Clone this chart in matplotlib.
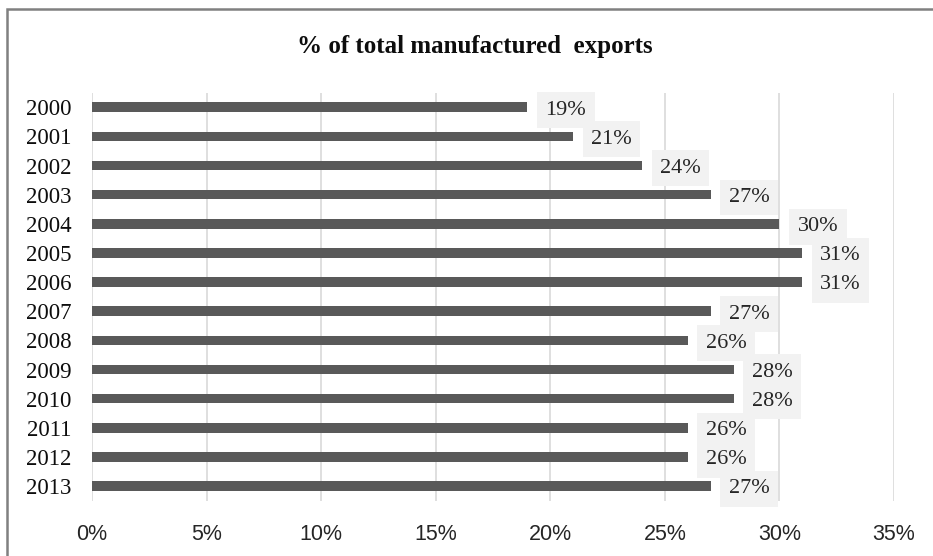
import matplotlib
matplotlib.use("Agg")
import matplotlib.pyplot as plt
from matplotlib.patches import Rectangle
from matplotlib.ticker import FuncFormatter

years = ["2000", "2001", "2002", "2003", "2004", "2005", "2006",
         "2007", "2008", "2009", "2010", "2011", "2012", "2013"]
shares = [19, 21, 24, 27, 30, 31, 31, 27, 26, 28, 28, 26, 26, 27]
x_ticks = [0, 5, 10, 15, 20, 25, 30, 35]
title = "% of total manufactured  exports"

SERIF = "Liberation Serif"
SANS = "Liberation Sans"


def plot_chart():
    fig = plt.figure(figsize=(9.33, 5.56), dpi=100)
    ax = fig.add_axes([0.0986, 0.0995, 0.8596, 0.7338])

    # frame around the chart (cut off at right and bottom like the source)
    frame = Rectangle((7 / 933, -0.1), 1.2, 1.1 - 9 / 556, transform=fig.transFigure,
                      fill=False, edgecolor="#808080", linewidth=1.8, clip_on=False)
    fig.patches.append(frame)

    pos = list(range(len(years)))
    ax.barh(pos, shares, height=0.33, color="#595959", zorder=2)

    for y, v in zip(pos, shares):
        ax.annotate(f"{v}%", xy=(v, y), xytext=(13, -2), textcoords="offset points",
                    ha="left", va="center", fontsize=16, family=SERIF, color="#262626",
                    bbox=dict(boxstyle="square,pad=0.38", facecolor="#f2f2f2", edgecolor="none"),
                    zorder=3)

    ax.set_xlim(0, 35)
    ax.set_ylim(len(years) - 0.5, -0.5)
    ax.set_xticks(x_ticks)
    ax.xaxis.set_major_formatter(FuncFormatter(lambda v, p: f"{v:.0f}%"))
    ax.set_yticks(pos)
    ax.set_yticklabels(years)

    ax.grid(axis="x", color="#d9d9d9", linewidth=1.2, zorder=0)
    ax.set_axisbelow(True)
    for s in ax.spines.values():
        s.set_visible(False)

    ax.tick_params(axis="both", length=0)
    ax.tick_params(axis="x", pad=17, labelsize=15.5, labelcolor="#262626")
    ax.tick_params(axis="y", pad=15, labelsize=16.5, labelcolor="#0d0d0d")
    for lab in ax.get_xticklabels():
        lab.set_family(SANS)
    for lab in ax.get_yticklabels():
        lab.set_family(SERIF)

    fig.text(475 / 933, 1 - 46 / 556, title, ha="center", va="center",
             fontsize=18, fontweight="bold", family=SERIF, color="#0d0d0d")

    fig.savefig("out.png", dpi=100)


if __name__ == "__main__":
    plot_chart()
